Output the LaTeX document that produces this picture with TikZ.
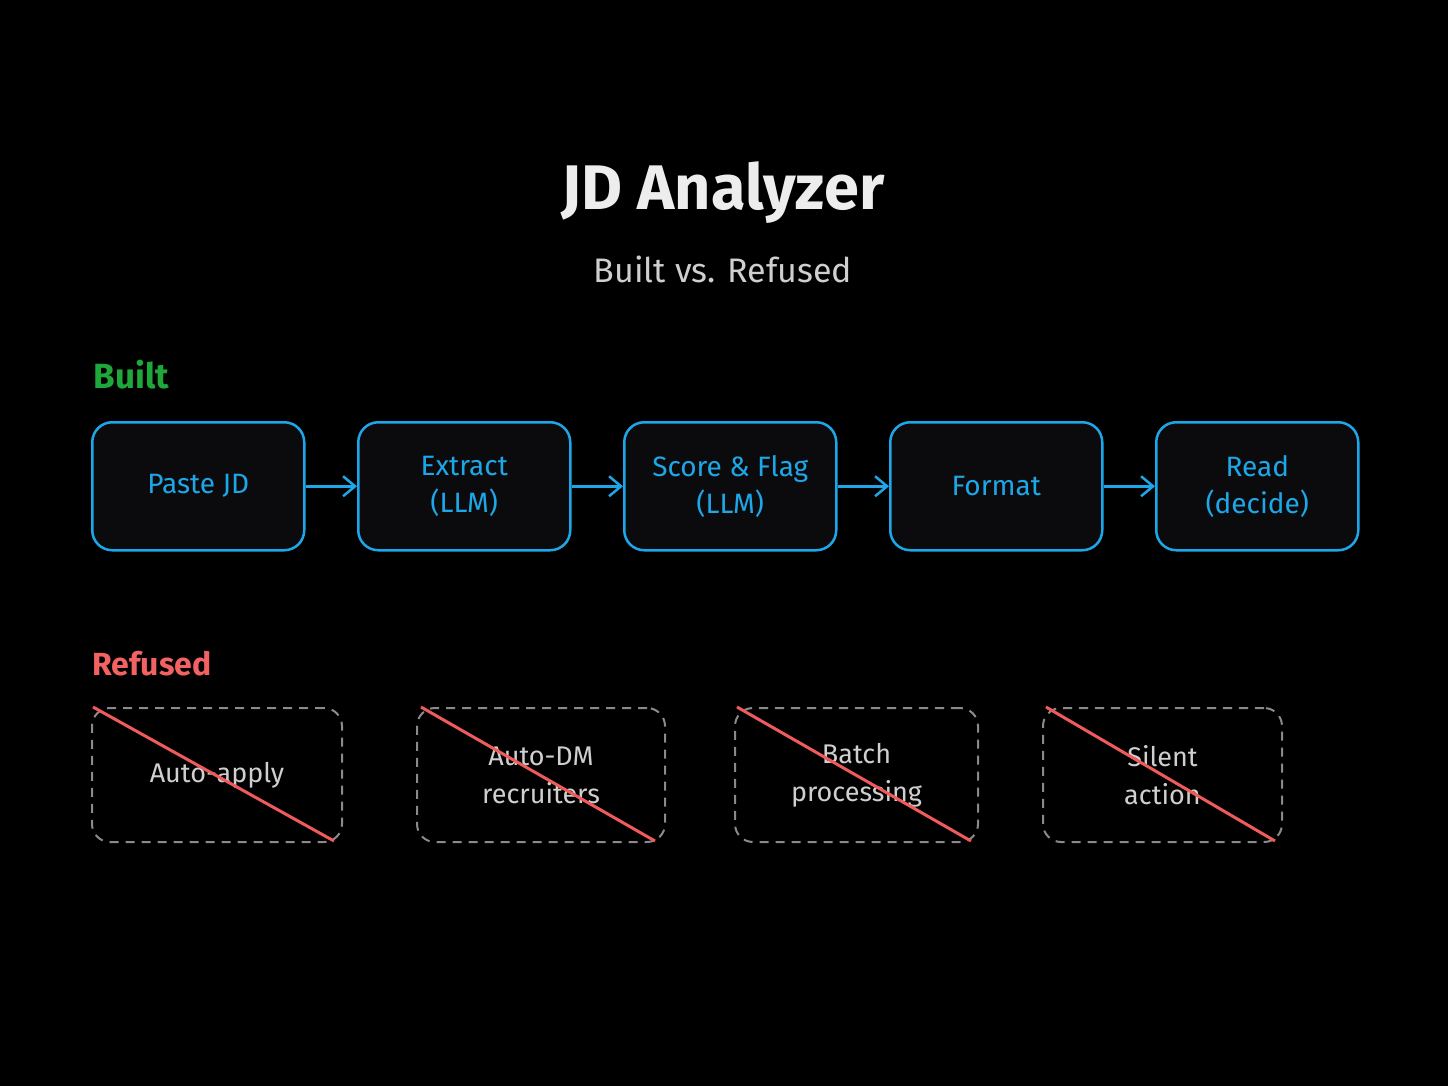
\documentclass[tikz,border=0pt]{standalone}
\usepackage{fontspec}
\setmainfont{Fira Sans}
\usetikzlibrary{arrows.meta}
\definecolor{bg}{HTML}{000000}
\definecolor{boxfill}{HTML}{0B0B0D}
\definecolor{blueline}{HTML}{1EA7E8}
\definecolor{greentxt}{HTML}{1FA83A}
\definecolor{redtxt}{HTML}{F26262}
\definecolor{redline}{HTML}{EF5A5A}
\definecolor{graydash}{HTML}{8A8A8A}
\definecolor{graytxt}{HTML}{CFCFCF}
\definecolor{titletxt}{HTML}{EDEDED}
\tikzset{
  x=1pt,y=-1pt,
  builtbox/.style={draw=blueline,line width=2.5pt,fill=boxfill,rounded corners=20pt,
    text=blueline,font=\fontsize{28}{37}\selectfont,align=center,anchor=north west,inner sep=0pt},
  refbox/.style={draw=graydash,line width=2pt,dash pattern=on 9pt off 7pt,rounded corners=18pt,
    text=graytxt,font=\fontsize{27}{38}\selectfont,align=center,anchor=north west,inner sep=0pt},
  flow/.style={draw=blueline,line width=2.5pt,-{Straight Barb[length=12pt,width=20pt,line width=2.5pt]}},
  strike/.style={draw=redline,line width=3pt},
}
\begin{document}
\begin{tikzpicture}
\useasboundingbox[fill=bg] (0,0) rectangle (1448,1086);
\node[text=titletxt,font=\fontsize{63}{66}\selectfont\bfseries] (title) at (723,193) {JD Analyzer};
\node[text=graytxt,font=\fontsize{34}{38}\selectfont] (subtitle) at (723,269) {Built vs. Refused};
\node[text=greentxt,font=\fontsize{35}{38}\selectfont\bfseries,anchor=west] (builtlbl) at (90,375) {Built};
\node[text=redtxt,font=\fontsize{32}{38}\selectfont\bfseries,anchor=west] (reflbl) at (89,664) {Refused};

\node[builtbox,minimum width=212pt,minimum height=128pt] (b1) at (91,421) {Paste JD};
\node[builtbox,minimum width=212pt,minimum height=128pt] (b2) at (357,421) {Extract\\(LLM)};
\node[builtbox,minimum width=212pt,minimum height=128pt] (b3) at (623,421) {Score \& Flag\\(LLM)};
\node[builtbox,minimum width=212pt,minimum height=128pt] (b4) at (889,421) {Format};
\node[builtbox,minimum width=202pt,minimum height=128pt] (b5) at (1155,421) {Read\\(decide)};
\draw[flow] (b1.east) -- (b2.west);
\draw[flow] (b2.east) -- (b3.west);
\draw[flow] (b3.east) -- (b4.west);
\draw[flow] (b4.east) -- (b5.west);

\node[refbox,minimum width=250pt,minimum height=134pt] (r1) at (91,707) {Auto-apply};
\node[refbox,minimum width=248pt,minimum height=134pt] (r2) at (416,707) {Auto-DM\\recruiters};
\node[refbox,minimum width=243pt,minimum height=134pt] (r3) at (734,707) {Batch\\processing};
\node[refbox,minimum width=239pt,minimum height=134pt] (r4) at (1042,707) {Silent\\action};
\coordinate (s1a) at (93,707); \coordinate (s1b) at (334,841);
\coordinate (s2a) at (421,707); \coordinate (s2b) at (655,841);
\coordinate (s3a) at (737,707); \coordinate (s3b) at (971,841);
\coordinate (s4a) at (1046,707); \coordinate (s4b) at (1275,841);
\draw[strike] (s1a) -- (s1b);
\draw[strike] (s2a) -- (s2b);
\draw[strike] (s3a) -- (s3b);
\draw[strike] (s4a) -- (s4b);
\end{tikzpicture}
\end{document}
